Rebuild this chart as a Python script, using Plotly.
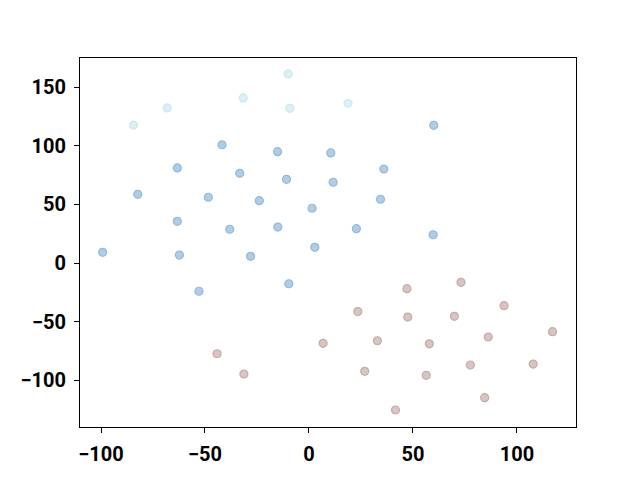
import plotly.graph_objects as go

# Cluster A (light cyan)
cyan_x = [-10.0, -31.6, -9.2, -68.2, -84.4, 18.8]
cyan_y = [161.3, 140.8, 132.0, 132.3, 117.7, 136.3]

# Cluster B (blue)
blue_x = [-41.8, -15.1, 10.5, -63.3, -33.3, -10.8, 60.0, 36.0, 11.6, -82.3,
          -48.4, -23.9, 1.5, -63.3, -38.1, -15.0, -99.2, -62.3, -28.1, 2.8,
          -52.9, -9.7, 34.4, 22.8, 59.7]
blue_y = [100.9, 95.0, 93.9, 81.1, 76.5, 71.4, 117.5, 80.2, 68.9, 58.6,
          56.1, 53.2, 46.7, 35.6, 28.8, 30.7, 9.1, 6.8, 5.7, 13.4,
          -24.1, -17.7, 54.4, 29.3, 24.1]

# Cluster C (brown)
brown_x = [47.1, 73.1, 23.5, 93.8, -44.2, -31.3, 6.8, 47.5, 69.9, 32.9,
           57.9, 86.2, 117.1, 26.8, 56.4, 77.6, 107.8, 84.5, 41.6]
brown_y = [-21.9, -16.5, -41.4, -36.4, -77.4, -94.7, -68.5, -46.1, -45.5, -66.3,
           -68.9, -63.1, -58.6, -92.4, -95.8, -87.0, -86.2, -114.9, -125.4]

x_ticks = [-100, -50, 0, 50, 100]
y_ticks = [-100, -50, 0, 50, 100, 150]

def tick_text(v):
    return ("\u2212" + str(abs(v))) if v < 0 else str(v)

fig = go.Figure()
for xs, ys, fill, edge in [
    (cyan_x, cyan_y, "rgb(219,240,245)", "rgb(203,232,240)"),
    (blue_x, blue_y, "rgb(176,205,229)", "rgb(146,186,218)"),
    (brown_x, brown_y, "rgb(214,197,194)", "rgb(196,172,167)"),
]:
    fig.add_trace(go.Scatter(
        x=xs, y=ys, mode="markers",
        marker=dict(size=8, color=fill, line=dict(color=edge, width=1.2)),
        showlegend=False, hoverinfo="skip",
    ))

font = dict(family="Roboto", size=20, color="black", weight="bold")
common = dict(
    showgrid=False, zeroline=False, showline=True, linecolor="black", linewidth=1,
    mirror=True, ticks="outside", ticklen=5, tickwidth=1, tickcolor="black",
    tickfont=font, ticklabelstandoff=4,
)
fig.update_xaxes(range=[-110.1, 128.4], tickvals=x_ticks,
                 ticktext=[tick_text(v) for v in x_ticks], **common)
fig.update_yaxes(range=[-139.9, 174.9], tickvals=y_ticks,
                 ticktext=[tick_text(v) for v in y_ticks], **common)
fig.update_layout(
    width=640, height=480,
    margin=dict(l=72, r=72, t=50, b=61, autoexpand=False),
    paper_bgcolor="white", plot_bgcolor="white",
    font=dict(family="Roboto", size=20, color="black", weight="bold"),
)
fig.write_html("out.html")
